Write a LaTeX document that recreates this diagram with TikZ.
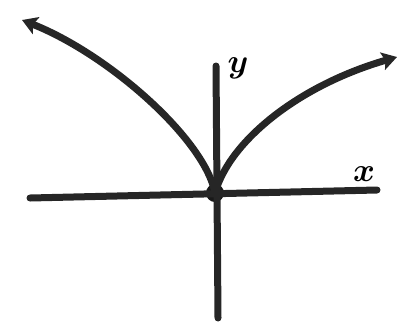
\documentclass[tikz,border=0pt]{standalone}
\usepackage{xcolor}
\usepackage{bm}
\usepackage{tikz}
\usetikzlibrary{shapes,arrows,arrows.meta,positioning,calc}

\begin{document}
\begin{tikzpicture}[x=1pt,y=-1pt,
    pen/.style={line width=7pt,line cap=round,black!85},
    tip/.style={-{Stealth[length=15pt,width=18pt,inset=3pt]}},
    dot/.style={circle,fill=black!90,inner sep=0pt,minimum size=18pt},
    lab/.style={font=\huge,scale=1.6}]
    \useasboundingbox (0,0) rectangle (398,322);
    % Punkte
    \node[dot] (O) at (215,193) {};
    \coordinate (xl) at (30,198);
    \coordinate (xr) at (377,190);
    \coordinate (yt) at (216,66);
    \coordinate (yb) at (218,318);
    \coordinate (lt) at (22,20);
    \coordinate (rt) at (397,57);
    % Achsen
    \draw[pen] (xl) -- (xr);
    \draw[pen] (yt) -- (yb);
    % Kurve
    \draw[pen,tip] (O.center) .. controls (205,140) and (110,55) .. (lt);
    \draw[pen,tip] (O.center) .. controls (230,140) and (300,85) .. (rt);
    % Beschriftung
    \node[lab] (ylab) at (238,68) {$\bm{y}$};
    \node[lab] (xlab) at (364,174) {$\bm{x}$};
\end{tikzpicture}
\end{document}
